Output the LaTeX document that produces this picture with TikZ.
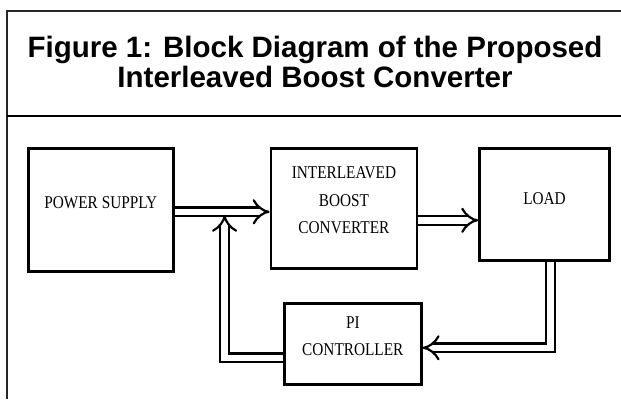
\documentclass[tikz,border=0pt]{standalone}
\usepackage{fontspec}
\setmainfont{Liberation Serif}
\newfontfamily\titlefont{Liberation Sans}
\newfontfamily\blockfont[FakeStretch=0.85]{Liberation Serif}
\usetikzlibrary{arrows.meta, positioning}

\begin{document}
\begin{tikzpicture}[x=1pt, y=1pt,
  box/.style={draw, line width=2.6pt, inner sep=0pt, align=center, anchor=north west,
    font=\blockfont\fontsize{18}{27.5}\selectfont},
  dbl/.style={double, double distance=6.5pt, line width=2.2pt, -{Implies}},
  frame/.style={line width=1.2pt, draw=black!85}
]
\useasboundingbox (0,0) rectangle (621,399);

% table frame and title
\draw[frame] (621,388) -- (7,388) -- (7,0);
\draw[line width=2pt] (7,283) -- (621,283);
\node[font=\titlefont\bfseries\fontsize{29.5}{30}\selectfont, align=center] (title) at (315,337)
  {Figure 1: Block Diagram of the Proposed\\Interleaved Boost Converter};

% blocks
\node[box, minimum width=145pt, minimum height=123pt, text depth=14pt] (ps) at (27,252) {POWER SUPPLY};
\node[box, minimum width=146pt, minimum height=120pt, text depth=16pt,
  right=95pt of ps.north east, anchor=north west] (ib) {INTERLEAVED\\BOOST\\CONVERTER};
\node[box, minimum width=130pt, minimum height=112pt, text depth=12pt,
  right=60pt of ib.north east, anchor=north west] (load) {LOAD};
\node[box, minimum width=137pt, minimum height=81pt, text depth=15pt] (pi) at (283,97) {PI\\CONTROLLER};

% connectors
\coordinate (tap) at ([xshift=50pt, yshift=-5pt]ps.east);
\draw[dbl] ([yshift=-2pt]ps.east) -- ([yshift=-2pt]ps.east -| ib.west);
\draw[dbl] ([yshift=-12pt]ib.east) -- ([yshift=-12pt]ib.east -| load.west);
\draw[dbl] ([xshift=6pt]load.south) |- ([yshift=-4pt]pi.east);
\draw[dbl] ([yshift=-14pt]pi.west) -| (tap);
\end{tikzpicture}
\end{document}
